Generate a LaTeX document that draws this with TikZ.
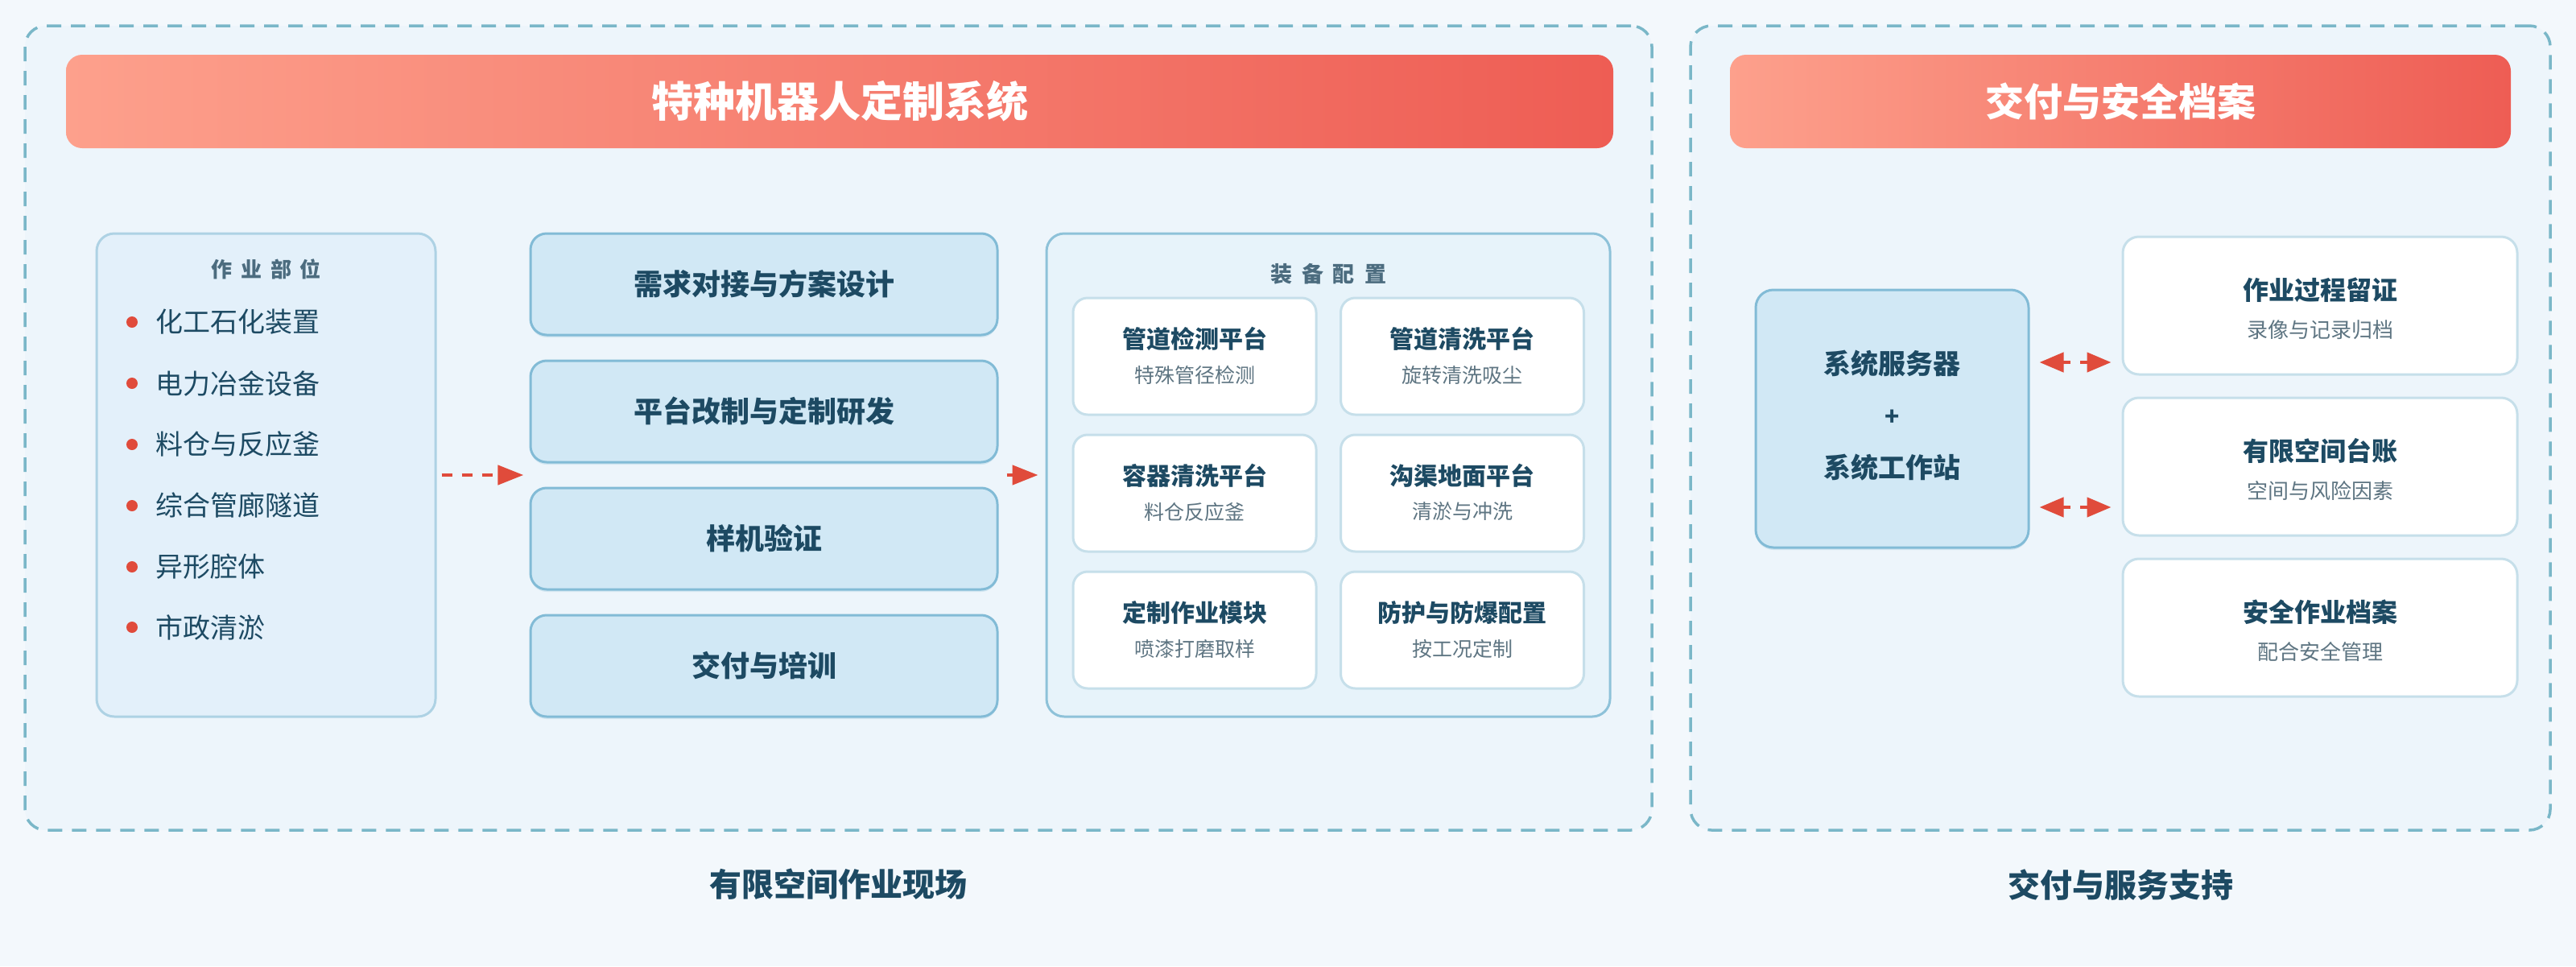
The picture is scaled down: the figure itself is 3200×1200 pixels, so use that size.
\documentclass[tikz,border=0pt]{standalone}
\usepackage{fontspec}
\setmainfont{Noto Sans CJK SC}
\usetikzlibrary{arrows.meta,shadows,fit}
\definecolor{canvas}{HTML}{F3F8FC}
\definecolor{zonefill}{HTML}{EDF5FB}
\definecolor{zoneline}{HTML}{7AB7C8}
\definecolor{barL}{HTML}{FDA08C}
\definecolor{barR}{HTML}{EE5D54}
\definecolor{stepfill}{HTML}{D1E8F5}
\definecolor{stepline}{HTML}{82BBD6}
\definecolor{listfill}{HTML}{E3F0FA}
\definecolor{listline}{HTML}{AED2E4}
\definecolor{equipfill}{HTML}{E7F3FA}
\definecolor{equipline}{HTML}{8EC2D9}
\definecolor{cardline}{HTML}{C6DFEA}
\definecolor{ink}{HTML}{1D4A63}
\definecolor{subink}{HTML}{5E7582}
\definecolor{headink}{HTML}{4C6C7F}
\definecolor{accent}{HTML}{E04B3B}
\newcommand{\fsz}[1]{\fontsize{#1}{#1}\selectfont}
\begin{document}
\begin{tikzpicture}[x=1pt,y=-1pt,
  zone/.style={draw=zoneline, line width=3.5pt, dash pattern=on 18pt off 12pt, fill=zonefill, rounded corners=26pt, inner sep=0pt},
  bar/.style={left color=barL, right color=barR, rounded corners=20pt, draw=none, inner sep=0pt, text=white},
  stepbox/.style={fill=stepfill, draw=stepline, line width=3pt, rounded corners=20pt, minimum width=580pt, minimum height=126pt, inner sep=0pt, text=ink, font=\fsz{36}\bfseries, drop shadow={shadow xshift=0pt, shadow yshift=-3pt, opacity=0.25, fill=stepline}},
  listbox/.style={fill=listfill, draw=listline, line width=3pt, rounded corners=22pt, inner sep=0pt},
  equipbox/.style={fill=equipfill, draw=equipline, line width=3pt, rounded corners=22pt, inner sep=0pt},
  ecard/.style={fill=white, draw=cardline, line width=3pt, rounded corners=18pt, minimum width=302pt, minimum height=145pt, inner sep=0pt},
  rcard/.style={fill=white, draw=cardline, line width=3pt, rounded corners=20pt, minimum width=490pt, minimum height=171pt, inner sep=0pt},
  serverbox/.style={fill=stepfill, draw=stepline, line width=3pt, rounded corners=22pt, minimum width=339pt, minimum height=320pt, inner sep=0pt, drop shadow={shadow xshift=0pt, shadow yshift=-3pt, opacity=0.25, fill=stepline}},
  ttl/.style={inner sep=0pt, text=ink, font=\fsz{#1}\bfseries},
  sub/.style={inner sep=0pt, text=subink, font=\fsz{#1}},
  item/.style={inner sep=0pt, anchor=west, text=ink, font=\fsz{34}},
  head/.style={inner sep=0pt, text=headink, font=\fsz{#1}\bfseries},
  bullet/.style={circle, fill=accent, minimum size=14pt, inner sep=0pt},
  link/.style={accent, line width=4.5pt},
  tip/.style={-{Triangle[length=32pt,width=24pt]}},
  dtip/.style={{Triangle[length=30pt,width=24pt]}-{Triangle[length=30pt,width=24pt]}}
]
\useasboundingbox (0,0) rectangle (3200,1200);
\fill[canvas] (0,0) rectangle (3200,1200);

% zones
\node[zone, minimum width=2021pt, minimum height=999pt] (leftzone) at (1041.5,531.5) {};
\node[zone, minimum width=1068pt, minimum height=999pt] (rightzone) at (2634,531.5) {};

% title bars
\node[bar, minimum width=1922pt, minimum height=116pt, font=\fsz{52}\bfseries] (bar1) at (1043,126) {特种机器人定制系统};
\node[bar, minimum width=970pt, minimum height=116pt, font=\fsz{48}\bfseries] (bar2) at (2634,126) {交付与安全档案};

% work locations
\node[listbox, minimum width=421pt, minimum height=600pt] (listbox) at (330.5,590) {};
\node[head=26] (listhead) at (330.5,334) {作\hspace{11pt}业\hspace{11pt}部\hspace{11pt}位};
\node[bullet] (b1) at (164,400) {};
\node[bullet] (b2) at (164,476) {};
\node[bullet] (b3) at (164,552) {};
\node[bullet] (b4) at (164,628) {};
\node[bullet] (b5) at (164,704) {};
\node[bullet] (b6) at (164,779) {};
\node[item] (i1) at (193,400) {化工石化装置};
\node[item] (i2) at (193,476) {电力冶金设备};
\node[item] (i3) at (193,552) {料仓与反应釜};
\node[item] (i4) at (193,628) {综合管廊隧道};
\node[item] (i5) at (193,704) {异形腔体};
\node[item] (i6) at (193,779) {市政清淤};

% steps
\node[stepbox] (s1) at (949,353) {需求对接与方案设计};
\node[stepbox] (s2) at (949,511) {平台改制与定制研发};
\node[stepbox] (s3) at (949,669) {样机验证};
\node[stepbox] (s4) at (949,827) {交付与培训};
\node[fit=(s1)(s4), inner sep=0pt] (stepcol) {};

% equipment
\node[equipbox, minimum width=700pt, minimum height=600pt] (equip) at (1650,590) {};
\node[head=27] (equiphead) at (1650,340) {装\hspace{12pt}备\hspace{12pt}配\hspace{12pt}置};

\node[ecard] (e1) at (1484,442.5) {};
\node[ecard] (e2) at (1816.5,442.5) {};
\node[ecard] (e3) at (1484,612.5) {};
\node[ecard] (e4) at (1816.5,612.5) {};
\node[ecard] (e5) at (1484,782.5) {};
\node[ecard] (e6) at (1816.5,782.5) {};

\node[ttl=30] (e1t) at ([yshift=22pt]e1.center) {管道检测平台};
\node[sub=25] (e1s) at ([yshift=-23pt]e1.center) {特殊管径检测};
\node[ttl=30] (e2t) at ([yshift=22pt]e2.center) {管道清洗平台};
\node[sub=25] (e2s) at ([yshift=-23pt]e2.center) {旋转清洗吸尘};
\node[ttl=30] (e3t) at ([yshift=22pt]e3.center) {容器清洗平台};
\node[sub=25] (e3s) at ([yshift=-23pt]e3.center) {料仓反应釜};
\node[ttl=30] (e4t) at ([yshift=22pt]e4.center) {沟渠地面平台};
\node[sub=25] (e4s) at ([yshift=-23pt]e4.center) {清淤与冲洗};
\node[ttl=30] (e5t) at ([yshift=22pt]e5.center) {定制作业模块};
\node[sub=25] (e5s) at ([yshift=-23pt]e5.center) {喷漆打磨取样};
\node[ttl=30] (e6t) at ([yshift=22pt]e6.center) {防护与防爆配置};
\node[sub=25] (e6s) at ([yshift=-23pt]e6.center) {按工况定制};

% right side
\node[serverbox] (server) at (2350.5,520) {};
\node[ttl=34] (sv1) at (2350.5,452) {系统服务器};
\node[ttl=30] (svplus) at (2350.5,519) {+};
\node[ttl=34] (sv2) at (2350.5,581) {系统工作站};

\node[rcard] (r1) at (2882,379.5) {};
\node[rcard] (r2) at (2882,579.5) {};
\node[rcard] (r3) at (2882,779.5) {};
\node[ttl=32] (r1t) at ([yshift=19pt]r1.center) {作业过程留证};
\node[sub=26] (r1s) at ([yshift=-30pt]r1.center) {录像与记录归档};
\node[ttl=32] (r2t) at ([yshift=19pt]r2.center) {有限空间台账};
\node[sub=26] (r2s) at ([yshift=-30pt]r2.center) {空间与风险因素};
\node[ttl=32] (r3t) at ([yshift=19pt]r3.center) {安全作业档案};
\node[sub=26] (r3s) at ([yshift=-30pt]r3.center) {配合安全管理};

% bottom labels
\node[ttl=40] (lab1) at (1041.5,1098) {有限空间作业现场};
\node[ttl=40] (lab2) at (2634,1099) {交付与服务支持};

% connectors
\draw[link, tip, dash pattern=on 13pt off 12pt] ([xshift=6pt]listbox.east) -- ([xshift=-7pt]stepcol.west);
\draw[link, tip] ([xshift=10pt]stepcol.east) -- ([xshift=-9pt]equip.west);
\coordinate (da1) at ([xshift=12pt,yshift=70pt]server.east);
\coordinate (da2) at ([xshift=12pt,yshift=-110pt]server.east);
\draw[link, dtip, dash pattern=on 10pt off 12pt, shorten >=13pt] (da1) -- (da1 -| r1.west);
\draw[link, dtip, dash pattern=on 10pt off 12pt, shorten >=13pt] (da2) -- (da2 -| r2.west);
\end{tikzpicture}
\end{document}
